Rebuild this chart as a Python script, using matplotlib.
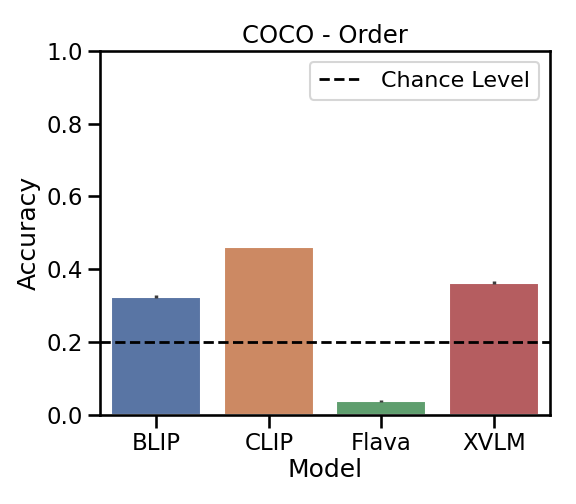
import matplotlib
matplotlib.use("Agg")
import matplotlib.pyplot as plt
import seaborn as sns

models = ["BLIP", "CLIP", "Flava", "XVLM"]
accuracy = [0.324, 0.462, 0.038, 0.363]
errors = [0.004, 0.0, 0.004, 0.004]
chance = 0.2

sns.set_theme(style="ticks", context="talk")
plt.rcParams['font.family'] = ['DejaVu Sans']
plt.rcParams['text.color'] = 'black'
plt.rcParams['axes.labelcolor'] = 'black'
plt.rcParams['xtick.color'] = 'black'
plt.rcParams['ytick.color'] = 'black'

fig, ax = plt.subplots(figsize=(5.76, 5.04), dpi=100)
palette = sns.color_palette("deep", 4, desat=0.75)
ax.bar(models, accuracy, width=0.8, color=palette, yerr=errors,
       error_kw=dict(ecolor="#3d3d3d", elinewidth=2.5, capsize=0))
ax.axhline(chance, color="black", linestyle="--", linewidth=2, label="Chance Level")

ax.set_ylim(0, 1.0)
ax.set_xlim(-0.5, 3.5)
ax.set_xlabel("Model", labelpad=2)
ax.set_ylabel("Accuracy")
ax.set_title("COCO - Order", fontsize=17.5)
ax.legend(loc="upper right", fontsize=16)
for s in ax.spines.values():
    s.set_color("black")

fig.subplots_adjust(left=0.174, right=0.955, top=0.899, bottom=0.177)
fig.savefig("out.png")
